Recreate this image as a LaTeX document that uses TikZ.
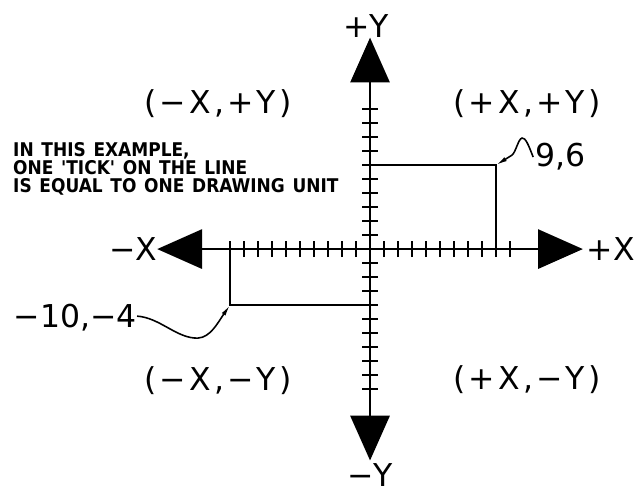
\documentclass[tikz,border=0pt]{standalone}
\usepackage{fontspec}
\setmainfont{DejaVu Sans}
\newfontfamily\quadfont{DejaVu Sans}[LetterSpace=10]
\newfontfamily\notafont{DejaVu Sans Condensed Bold}[WordSpace=1.3]
\usetikzlibrary{arrows.meta}

\tikzset{
    asse/.style={line width=2.4pt, {Triangle[length=1.6cm,width=1.4cm]}-{Triangle[length=1.6cm,width=1.4cm]}},
    tacca/.style={line width=2.2pt},
    proiezione/.style={line width=2pt},
    richiamo/.style={line width=1.6pt, -{Latex[length=4mm,width=1.6mm]}},
    etichetta/.style={font=\fontsize{32}{32}\selectfont, inner sep=0pt},
    quadrante/.style={font=\quadfont\fontsize{32}{32}\selectfont, inner sep=0pt},
    nota/.style={font=\notafont\fontsize{19.2}{18.5}\selectfont, inner sep=0pt, align=left}
}

\begin{document}
\begin{tikzpicture}[x=0.5cm, y=0.5cm]
    \useasboundingbox (-26.43,-17.21) rectangle (19.21,17.79);
    %estremi degli assi
    \coordinate (O) at (0,0);
    \coordinate (xmin) at (-15.2,0);
    \coordinate (xmax) at (15.2,0);
    \coordinate (ymin) at (0,-15.1);
    \coordinate (ymax) at (0,15.1);
    %disegno assi
    \draw[asse] (xmin) -- (xmax);
    \draw[asse] (ymin) -- (ymax);
    %tacche
    \foreach \i in {-10,...,10} {
        \draw[tacca] (\i,-0.57) -- (\i,0.57);
        \draw[tacca] (-0.57,\i) -- (0.57,\i);
    }
    %label assi
    \node[etichetta, anchor=east] (lxn) at (xmin) {−X};
    \node[etichetta, anchor=west, xshift=4pt] (lxp) at (xmax) {+X};
    \node[etichetta, anchor=south, xshift=-4pt] (lyp) at (ymax) {+Y};
    \node[etichetta, anchor=north, yshift=-3pt] (lyn) at (ymin) {−Y};
    
    %quadranti
    \node[quadrante] (q2) at (-10.86,10.36) {(−X,+Y)};
    \node[quadrante] (q1) at (11.21,10.36) {(+X,+Y)};
    \node[quadrante] (q3) at (-10.86,-9.43) {(−X,−Y)};
    \node[quadrante] (q4) at (11.21,-9.36) {(+X,−Y)};
    
    %nota
    \node[nota, anchor=west] (nota) at (-25.5,5.71) {IN THIS EXAMPLE,\\ONE \textquotesingle TICK\textquotesingle{} ON THE LINE\\IS EQUAL TO ONE DRAWING UNIT};
    
    %punti e proiezioni
    \coordinate (p96) at (9,6);
    \coordinate (p104) at (-10,-4);
    \draw[proiezione] (p96 -| O) -- (p96) -- (p96 |- O);
    \draw[proiezione] (p104 -| O) -- (p104) -- (p104 |- O);
    
    %richiami e label punti
    \node[etichetta, anchor=west] (l96) at (11.79,6.57) {9,6};
    \node[etichetta, anchor=east] (l104) at (-16.64,-4.93) {−10,−4};
    \draw[richiamo] ([xshift=-2pt]l96.west) .. controls (11.3,7.5) and (11.1,7.95) .. (10.86,7.93)
        .. controls (10.6,7.9) and (10.4,6.9) .. (10.14,6.71) -- (p96);
    \draw[richiamo] ([yshift=2pt]l104.east) .. controls (-15,-4.9) and (-13.8,-6.4) .. (-12.3,-6.36)
        .. controls (-11.4,-6.3) and (-10.9,-5.3) .. (p104);
    
\end{tikzpicture}
\end{document}
